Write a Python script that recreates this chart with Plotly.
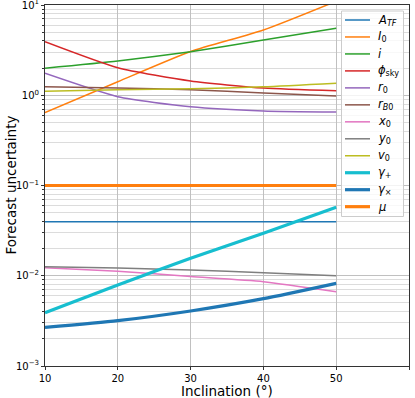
import plotly.graph_objects as go

# ── Data ──────────────────────────────────────────────────────────────────
inclination = [10, 20, 30, 40, 50]

A_TF    = [0.0397, 0.0397, 0.0397, 0.0397, 0.0397]
I_0     = [0.641, 1.41, 3.05, 5.28, 11.0]
i_incl  = [1.99, 2.39, 3.04, 4.09, 5.52]
phi_sky = [3.92, 2.02, 1.44, 1.20, 1.12]
r_0     = [1.75, 0.964, 0.746, 0.67, 0.652]
r_B0    = [1.24, 1.20, 1.15, 1.06, 0.98]
x_0     = [0.0123, 0.0112, 0.0098, 0.0086, 0.00665]
y_0     = [0.0126, 0.0122, 0.0116, 0.0108, 0.0100]
v_0     = [1.11, 1.15, 1.18, 1.24, 1.36]
gamma_p = [0.0039, 0.0079, 0.0156, 0.0295, 0.0573]
gamma_x = [0.00268, 0.00318, 0.00407, 0.00557, 0.00824]
mu      = [0.1, 0.1, 0.1, 0.1, 0.1]

SERIES = [
    ("<i>A</i><sub><i>TF</i></sub>", A_TF, "#1f77b4", 1.5),
    ("<i>I</i><sub>0</sub>", I_0, "#ff7f0e", 1.5),
    ("<i>i</i>", i_incl, "#2ca02c", 1.5),
    ("<i>ϕ</i><sub>sky</sub>", phi_sky, "#d62728", 1.5),
    ("<i>r</i><sub>0</sub>", r_0, "#9467bd", 1.5),
    ("<i>r</i><sub><i>B</i>0</sub>", r_B0, "#8c564b", 1.5),
    ("<i>x</i><sub>0</sub>", x_0, "#e377c2", 1.5),
    ("<i>y</i><sub>0</sub>", y_0, "#7f7f7f", 1.5),
    ("<i>v</i><sub>0</sub>", v_0, "#bcbd22", 1.5),
    ("<i>γ</i><sub>+</sub>", gamma_p, "#17becf", 3.2),
    ("<i>γ</i><sub>×</sub>", gamma_x, "#1f77b4", 3.2),
    ("<i>μ</i>", mu, "#ff7f0e", 3.2),
]

y_ticks = [1e-3, 1e-2, 1e-1, 1e0, 1e1]
y_text = ["10<sup>−3</sup>", "10<sup>−2</sup>", "10<sup>−1</sup>",
          "10<sup>0</sup>", "10<sup>1</sup>"]

# plot-area geometry in pixels (used only for the hand-built legend)
W, H = 415, 398
M = dict(l=45, r=6, t=5, b=32)
PW, PH = W - M["l"] - M["r"], H - M["t"] - M["b"]


def px_x(px):
    return (px - M["l"]) / PW


def px_y(py):
    return 1 - (py - M["t"]) / PH


fig = go.Figure()
for name, vals, color, width in SERIES:
    fig.add_trace(go.Scatter(
        x=inclination, y=vals, name=name, mode="lines",
        line=dict(color=color, width=width, shape="spline", smoothing=0.6),
    ))

# ── Legend (matplotlib-style compact box) ─────────────────────────────────
shapes = [dict(type="rect", xref="paper", yref="paper", layer="above",
               x0=px_x(341.5), x1=px_x(403.5), y0=px_y(216.5), y1=px_y(11),
               fillcolor="rgba(255,255,255,0.8)", line=dict(color="#cccccc", width=1))]
annotations = []
for k, (name, _, color, width) in enumerate(SERIES):
    yc = px_y(20 + 16.97 * k)
    shapes.append(dict(type="line", xref="paper", yref="paper", layer="above",
                       x0=px_x(345), x1=px_x(370), y0=yc, y1=yc,
                       line=dict(color=color, width=width)))
    annotations.append(dict(text=name, xref="paper", yref="paper",
                            x=px_x(376), y=yc, xanchor="left", yanchor="middle",
                            showarrow=False, font=dict(size=11.5)))

annotations += [
    dict(text="Inclination (°)", xref="paper", yref="paper", x=0.5, y=0,
         yshift=-25, yanchor="middle", showarrow=False, font=dict(size=13.5)),
    dict(text="Forecast uncertainty", xref="paper", yref="paper", x=0, y=0.5,
         xshift=-35, xanchor="center", textangle=-90, showarrow=False,
         font=dict(size=13.5)),
]

fig.update_layout(
    width=W, height=H,
    margin=dict(**M, autoexpand=False),
    paper_bgcolor="white", plot_bgcolor="white",
    font=dict(family="DejaVu Sans", size=10, color="black"),
    showlegend=False,
    shapes=shapes,
    annotations=annotations,
)
fig.update_xaxes(
    range=[10, 60], dtick=10, tick0=10, automargin=False,
    showline=True, linecolor="#333", linewidth=1, mirror=True,
    ticks="outside", ticklen=3, tickcolor="#333",
    showgrid=True, gridcolor="#c0c0c0", gridwidth=1, zeroline=False,
)
fig.update_yaxes(
    type="log", range=[-3, 1], automargin=False,
    tickvals=y_ticks, ticktext=y_text, ticklabeloverflow="allow",
    showline=True, linecolor="#333", linewidth=1, mirror=True,
    ticks="outside", ticklen=3, tickcolor="#333",
    showgrid=True, gridcolor="#c0c0c0", gridwidth=1, zeroline=False,
    minor=dict(showgrid=True, gridcolor="#dcdcdc", gridwidth=1,
               ticks="outside", ticklen=2, tickcolor="#333",
               tickvals=[m * 10 ** e for e in range(-3, 1) for m in range(2, 10)]),
)

# page body has an 8px default margin; drop it so the figure fills the window
fig.write_html("out.html", config={"displayModeBar": False},
               post_script="document.body.style.margin='0';")
